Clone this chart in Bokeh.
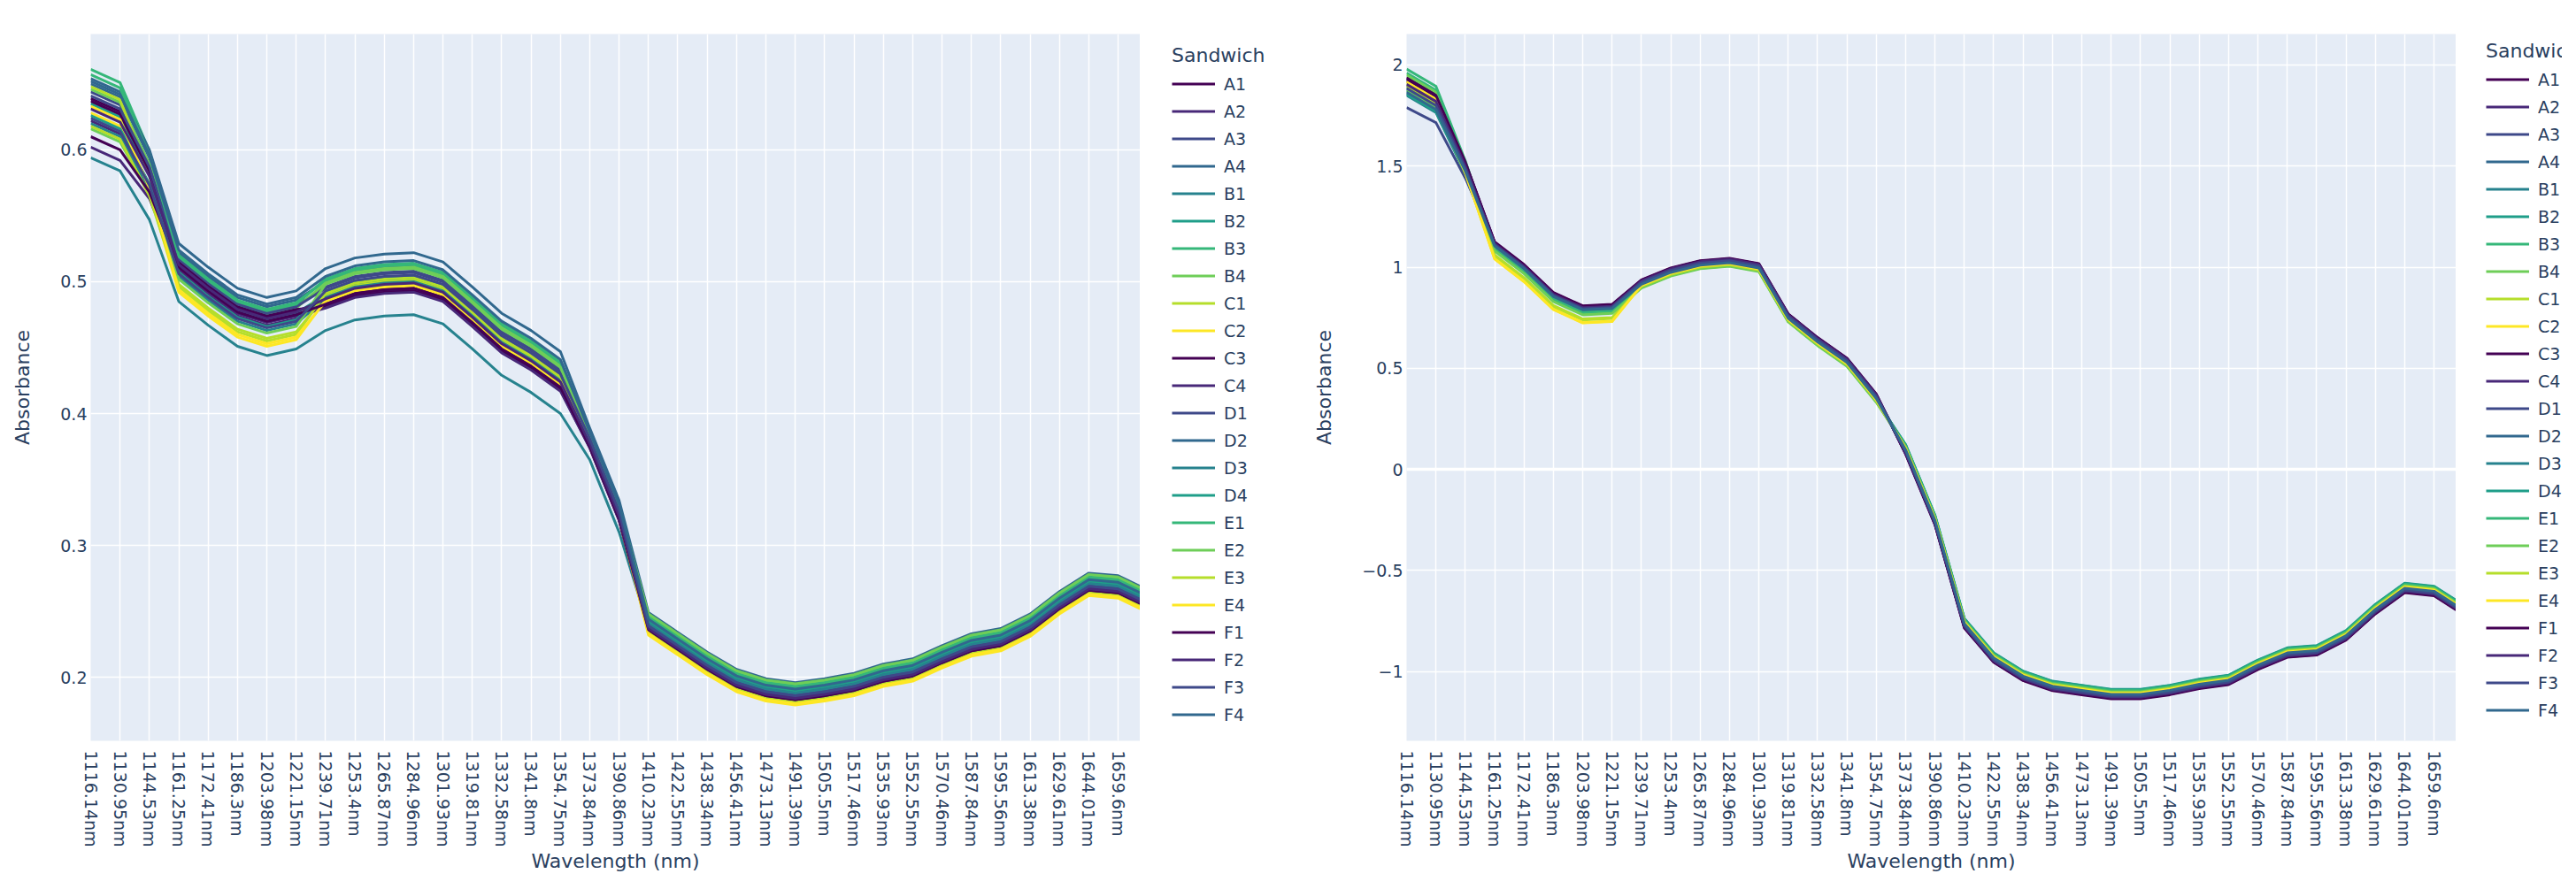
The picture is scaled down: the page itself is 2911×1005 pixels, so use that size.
import math
from bokeh.plotting import figure
from bokeh.models import Range1d, FixedTicker, CustomJSTickFormatter, Legend, LegendItem, Span
from bokeh.layouts import row
from bokeh.embed import file_html
from bokeh.resources import INLINE

# ---------------- data ----------------
wavelength_labels = ["1116.14nm", "1130.95nm", "1144.53nm", "1161.25nm", "1172.41nm", "1186.3nm",
                     "1203.98nm", "1221.15nm", "1239.71nm", "1253.4nm", "1265.87nm", "1284.96nm",
                     "1301.93nm", "1319.81nm", "1332.58nm", "1341.8nm", "1354.75nm", "1373.84nm",
                     "1390.86nm", "1410.23nm", "1422.55nm", "1438.34nm", "1456.41nm", "1473.13nm",
                     "1491.39nm", "1505.5nm", "1517.46nm", "1535.93nm", "1552.55nm", "1570.46nm",
                     "1587.84nm", "1595.56nm", "1613.38nm", "1629.61nm", "1644.01nm", "1659.6nm"]
LABEL_STEP = 4          # one labelled wavelength every 4 categories
last_category = 143     # last (unlabelled) wavelength category at the right edge
sample_pos = [LABEL_STEP * k for k in range(len(wavelength_labels))] + [last_category]

sandwiches = ["A1", "A2", "A3", "A4", "B1", "B2", "B3", "B4", "C1", "C2", "C3", "C4",
              "D1", "D2", "D3", "D4", "E1", "E2", "E3", "E4", "F1", "F2", "F3", "F4"]
viridis10 = ["#440154", "#482878", "#3E4989", "#31688E", "#26828E",
             "#1F9E89", "#35B779", "#6ECE58", "#B5DE2B", "#FDE725"]

# left chart: absorbance
abs_A1 = [0.639, 0.629, 0.585, 0.514, 0.496, 0.480, 0.473, 0.478, 0.484, 0.492, 0.495, 0.496, 0.489, 0.470, 0.450, 0.437, 0.421, 0.376, 0.321,
          0.237, 0.222, 0.207, 0.194, 0.187, 0.184, 0.187, 0.191, 0.198, 0.202, 0.212, 0.221, 0.225, 0.236, 0.253, 0.267, 0.265, 0.257]
abs_A2 = [0.602, 0.592, 0.563, 0.508, 0.490, 0.474, 0.467, 0.472, 0.482, 0.490, 0.493, 0.494, 0.487, 0.468, 0.448, 0.435, 0.419, 0.375, 0.320,
          0.239, 0.224, 0.209, 0.196, 0.189, 0.186, 0.189, 0.193, 0.200, 0.204, 0.214, 0.223, 0.227, 0.238, 0.255, 0.269, 0.267, 0.259]
abs_A3 = [0.644, 0.634, 0.589, 0.518, 0.500, 0.484, 0.477, 0.482, 0.496, 0.504, 0.507, 0.508, 0.501, 0.482, 0.462, 0.449, 0.433, 0.382, 0.327,
          0.242, 0.227, 0.212, 0.199, 0.192, 0.189, 0.192, 0.196, 0.203, 0.207, 0.217, 0.226, 0.230, 0.241, 0.258, 0.272, 0.270, 0.262]
abs_A4 = [0.650, 0.640, 0.594, 0.522, 0.504, 0.488, 0.481, 0.486, 0.500, 0.508, 0.511, 0.512, 0.505, 0.486, 0.466, 0.453, 0.437, 0.384, 0.329,
          0.246, 0.231, 0.216, 0.203, 0.196, 0.193, 0.196, 0.200, 0.207, 0.211, 0.221, 0.230, 0.234, 0.245, 0.262, 0.276, 0.274, 0.266]
abs_B1 = [0.594, 0.584, 0.547, 0.485, 0.467, 0.451, 0.444, 0.449, 0.463, 0.471, 0.474, 0.475, 0.468, 0.449, 0.429, 0.416, 0.400, 0.365, 0.310,
          0.238, 0.223, 0.208, 0.195, 0.188, 0.185, 0.188, 0.192, 0.199, 0.203, 0.213, 0.222, 0.226, 0.237, 0.254, 0.268, 0.266, 0.258]
abs_B2 = [0.635, 0.625, 0.582, 0.512, 0.494, 0.478, 0.471, 0.476, 0.490, 0.498, 0.501, 0.502, 0.495, 0.476, 0.456, 0.443, 0.427, 0.379, 0.324,
          0.243, 0.228, 0.213, 0.200, 0.193, 0.190, 0.193, 0.197, 0.204, 0.208, 0.218, 0.227, 0.231, 0.242, 0.259, 0.273, 0.271, 0.263]
abs_B3 = [0.661, 0.651, 0.599, 0.520, 0.502, 0.486, 0.479, 0.484, 0.501, 0.509, 0.512, 0.513, 0.506, 0.487, 0.467, 0.454, 0.438, 0.385, 0.330,
          0.245, 0.230, 0.215, 0.202, 0.195, 0.192, 0.195, 0.199, 0.206, 0.210, 0.220, 0.229, 0.233, 0.244, 0.261, 0.275, 0.273, 0.265]
abs_B4 = [0.646, 0.636, 0.589, 0.516, 0.498, 0.482, 0.475, 0.480, 0.499, 0.507, 0.510, 0.511, 0.504, 0.485, 0.465, 0.452, 0.436, 0.384, 0.329,
          0.247, 0.232, 0.217, 0.204, 0.197, 0.194, 0.197, 0.201, 0.208, 0.212, 0.222, 0.231, 0.235, 0.246, 0.263, 0.277, 0.275, 0.267]
abs_C1 = [0.648, 0.638, 0.581, 0.498, 0.480, 0.464, 0.457, 0.462, 0.489, 0.497, 0.500, 0.501, 0.494, 0.475, 0.455, 0.442, 0.426, 0.378, 0.323,
          0.236, 0.221, 0.206, 0.193, 0.186, 0.183, 0.186, 0.190, 0.197, 0.201, 0.211, 0.220, 0.224, 0.235, 0.252, 0.266, 0.264, 0.256]
abs_C2 = [0.628, 0.618, 0.568, 0.492, 0.474, 0.458, 0.451, 0.456, 0.486, 0.494, 0.497, 0.498, 0.491, 0.472, 0.452, 0.439, 0.423, 0.377, 0.322,
          0.232, 0.217, 0.202, 0.189, 0.182, 0.179, 0.182, 0.186, 0.193, 0.197, 0.207, 0.216, 0.220, 0.231, 0.248, 0.262, 0.260, 0.252]
abs_C3 = [0.637, 0.627, 0.584, 0.515, 0.497, 0.481, 0.474, 0.479, 0.481, 0.489, 0.492, 0.493, 0.486, 0.467, 0.447, 0.434, 0.418, 0.374, 0.319,
          0.235, 0.220, 0.205, 0.192, 0.185, 0.182, 0.185, 0.189, 0.196, 0.200, 0.210, 0.219, 0.223, 0.234, 0.251, 0.265, 0.263, 0.255]
abs_C4 = [0.622, 0.612, 0.574, 0.510, 0.492, 0.476, 0.469, 0.474, 0.480, 0.488, 0.491, 0.492, 0.485, 0.466, 0.446, 0.433, 0.417, 0.374, 0.319,
          0.238, 0.223, 0.208, 0.195, 0.188, 0.185, 0.188, 0.192, 0.199, 0.203, 0.213, 0.222, 0.226, 0.237, 0.254, 0.268, 0.266, 0.258]
abs_D1 = [0.641, 0.631, 0.587, 0.517, 0.499, 0.483, 0.476, 0.481, 0.495, 0.503, 0.506, 0.507, 0.500, 0.481, 0.461, 0.448, 0.432, 0.382, 0.327,
          0.240, 0.225, 0.210, 0.197, 0.190, 0.187, 0.190, 0.194, 0.201, 0.205, 0.215, 0.224, 0.228, 0.239, 0.256, 0.270, 0.268, 0.260]
abs_D2 = [0.654, 0.644, 0.600, 0.529, 0.511, 0.495, 0.488, 0.493, 0.510, 0.518, 0.521, 0.522, 0.515, 0.496, 0.476, 0.463, 0.447, 0.389, 0.334,
          0.249, 0.234, 0.219, 0.206, 0.199, 0.196, 0.199, 0.203, 0.210, 0.214, 0.224, 0.233, 0.237, 0.248, 0.265, 0.279, 0.277, 0.269]
abs_D3 = [0.620, 0.610, 0.570, 0.504, 0.486, 0.470, 0.463, 0.468, 0.488, 0.496, 0.499, 0.500, 0.493, 0.474, 0.454, 0.441, 0.425, 0.378, 0.323,
          0.241, 0.226, 0.211, 0.198, 0.191, 0.188, 0.191, 0.195, 0.202, 0.206, 0.216, 0.225, 0.229, 0.240, 0.257, 0.271, 0.269, 0.261]
abs_D4 = [0.626, 0.616, 0.574, 0.507, 0.489, 0.473, 0.466, 0.471, 0.492, 0.500, 0.503, 0.504, 0.497, 0.478, 0.458, 0.445, 0.429, 0.380, 0.325,
          0.243, 0.228, 0.213, 0.200, 0.193, 0.190, 0.193, 0.197, 0.204, 0.208, 0.218, 0.227, 0.231, 0.242, 0.259, 0.273, 0.271, 0.263]
abs_E1 = [0.657, 0.647, 0.596, 0.519, 0.501, 0.485, 0.478, 0.483, 0.502, 0.510, 0.513, 0.514, 0.507, 0.488, 0.468, 0.455, 0.439, 0.385, 0.330,
          0.246, 0.231, 0.216, 0.203, 0.196, 0.193, 0.196, 0.200, 0.207, 0.211, 0.221, 0.230, 0.234, 0.245, 0.262, 0.276, 0.274, 0.266]
abs_E2 = [0.616, 0.606, 0.567, 0.502, 0.484, 0.468, 0.461, 0.466, 0.498, 0.506, 0.509, 0.510, 0.503, 0.484, 0.464, 0.451, 0.435, 0.383, 0.328,
          0.248, 0.233, 0.218, 0.205, 0.198, 0.195, 0.198, 0.202, 0.209, 0.213, 0.223, 0.232, 0.236, 0.247, 0.264, 0.278, 0.276, 0.268]
abs_E3 = [0.618, 0.608, 0.565, 0.496, 0.478, 0.462, 0.455, 0.460, 0.491, 0.499, 0.502, 0.503, 0.496, 0.477, 0.457, 0.444, 0.428, 0.379, 0.324,
          0.234, 0.219, 0.204, 0.191, 0.184, 0.181, 0.184, 0.188, 0.195, 0.199, 0.209, 0.218, 0.222, 0.233, 0.250, 0.264, 0.262, 0.254]
abs_E4 = [0.633, 0.623, 0.571, 0.494, 0.476, 0.460, 0.453, 0.458, 0.485, 0.493, 0.496, 0.497, 0.490, 0.471, 0.451, 0.438, 0.422, 0.376, 0.321,
          0.233, 0.218, 0.203, 0.190, 0.183, 0.180, 0.183, 0.187, 0.194, 0.198, 0.208, 0.217, 0.221, 0.232, 0.249, 0.263, 0.261, 0.253]
abs_F1 = [0.610, 0.600, 0.568, 0.511, 0.493, 0.477, 0.470, 0.475, 0.483, 0.491, 0.494, 0.495, 0.488, 0.469, 0.449, 0.436, 0.420, 0.375, 0.320,
          0.236, 0.221, 0.206, 0.193, 0.186, 0.183, 0.186, 0.190, 0.197, 0.201, 0.211, 0.220, 0.224, 0.235, 0.252, 0.266, 0.264, 0.256]
abs_F2 = [0.631, 0.621, 0.580, 0.513, 0.495, 0.479, 0.472, 0.477, 0.487, 0.495, 0.498, 0.499, 0.492, 0.473, 0.453, 0.440, 0.424, 0.377, 0.322,
          0.237, 0.222, 0.207, 0.194, 0.187, 0.184, 0.187, 0.191, 0.198, 0.202, 0.212, 0.221, 0.225, 0.236, 0.253, 0.267, 0.265, 0.257]
abs_F3 = [0.624, 0.614, 0.573, 0.506, 0.488, 0.472, 0.465, 0.470, 0.493, 0.501, 0.504, 0.505, 0.498, 0.479, 0.459, 0.446, 0.430, 0.381, 0.326,
          0.239, 0.224, 0.209, 0.196, 0.189, 0.186, 0.189, 0.193, 0.200, 0.204, 0.214, 0.223, 0.227, 0.238, 0.255, 0.269, 0.267, 0.259]
abs_F4 = [0.652, 0.642, 0.596, 0.524, 0.506, 0.490, 0.483, 0.488, 0.504, 0.512, 0.515, 0.516, 0.509, 0.490, 0.470, 0.457, 0.441, 0.386, 0.331,
          0.244, 0.229, 0.214, 0.201, 0.194, 0.191, 0.194, 0.198, 0.205, 0.209, 0.219, 0.228, 0.232, 0.243, 0.260, 0.274, 0.272, 0.264]

# right chart: normalised absorbance
snv_A1 = [1.940, 1.855, 1.518, 1.115, 1.003, 0.865, 0.799, 0.806, 0.930, 0.989, 1.025, 1.037, 1.011, 0.762, 0.645, 0.543, 0.365,
          0.080, -0.270, -0.780, -0.950, -1.040, -1.090, -1.110, -1.130, -1.130, -1.110, -1.080, -1.060, -0.985, -0.925, -0.914, -0.840, -0.710, -0.605, -0.620, -0.690]
snv_A2 = [1.920, 1.835, 1.509, 1.118, 1.006, 0.868, 0.802, 0.809, 0.933, 0.992, 1.028, 1.040, 1.014, 0.765, 0.648, 0.546, 0.368,
          0.085, -0.265, -0.775, -0.945, -1.035, -1.085, -1.105, -1.125, -1.125, -1.105, -1.075, -1.055, -0.980, -0.920, -0.909, -0.835, -0.705, -0.600, -0.615, -0.685]
snv_A3 = [1.930, 1.845, 1.515, 1.120, 1.008, 0.870, 0.804, 0.811, 0.927, 0.986, 1.022, 1.034, 1.008, 0.759, 0.642, 0.540, 0.362,
          0.092, -0.258, -0.768, -0.938, -1.028, -1.078, -1.098, -1.118, -1.118, -1.098, -1.068, -1.048, -0.973, -0.913, -0.902, -0.828, -0.698, -0.593, -0.608, -0.678]
snv_A4 = [1.880, 1.795, 1.485, 1.110, 0.998, 0.860, 0.794, 0.801, 0.920, 0.979, 1.015, 1.027, 1.001, 0.752, 0.635, 0.533, 0.355,
          0.105, -0.245, -0.755, -0.925, -1.015, -1.065, -1.085, -1.105, -1.105, -1.085, -1.055, -1.035, -0.960, -0.900, -0.889, -0.815, -0.685, -0.580, -0.595, -0.665]
snv_B1 = [1.870, 1.785, 1.477, 1.105, 0.993, 0.855, 0.789, 0.796, 0.910, 0.969, 1.005, 1.017, 0.991, 0.742, 0.625, 0.523, 0.345,
          0.115, -0.235, -0.745, -0.915, -1.005, -1.055, -1.075, -1.095, -1.095, -1.075, -1.045, -1.025, -0.950, -0.890, -0.879, -0.805, -0.675, -0.570, -0.585, -0.655]
snv_B2 = [1.890, 1.805, 1.485, 1.100, 0.988, 0.850, 0.784, 0.791, 0.905, 0.964, 1.000, 1.012, 0.986, 0.737, 0.620, 0.518, 0.340,
          0.120, -0.230, -0.740, -0.910, -1.000, -1.050, -1.070, -1.090, -1.090, -1.070, -1.040, -1.020, -0.945, -0.885, -0.874, -0.800, -0.670, -0.565, -0.580, -0.650]
snv_B3 = [1.960, 1.875, 1.518, 1.095, 0.983, 0.845, 0.779, 0.786, 0.903, 0.962, 0.998, 1.010, 0.984, 0.735, 0.618, 0.516, 0.338,
          0.118, -0.232, -0.742, -0.912, -1.002, -1.052, -1.072, -1.092, -1.092, -1.072, -1.042, -1.022, -0.947, -0.887, -0.876, -0.802, -0.672, -0.567, -0.582, -0.652]
snv_B4 = [1.950, 1.865, 1.508, 1.085, 0.973, 0.835, 0.769, 0.776, 0.900, 0.959, 0.995, 1.007, 0.981, 0.732, 0.615, 0.513, 0.335,
          0.112, -0.238, -0.748, -0.918, -1.008, -1.058, -1.078, -1.098, -1.098, -1.078, -1.048, -1.028, -0.953, -0.893, -0.882, -0.808, -0.678, -0.573, -0.588, -0.658]
snv_C1 = [1.910, 1.825, 1.475, 1.060, 0.948, 0.810, 0.744, 0.751, 0.907, 0.966, 1.002, 1.014, 0.988, 0.739, 0.622, 0.520, 0.342,
          0.108, -0.242, -0.752, -0.922, -1.012, -1.062, -1.082, -1.102, -1.102, -1.082, -1.052, -1.032, -0.957, -0.897, -0.886, -0.812, -0.682, -0.577, -0.592, -0.662]
snv_C2 = [1.920, 1.835, 1.470, 1.040, 0.928, 0.790, 0.724, 0.731, 0.912, 0.971, 1.007, 1.019, 0.993, 0.744, 0.627, 0.525, 0.347,
          0.103, -0.247, -0.757, -0.927, -1.017, -1.067, -1.087, -1.107, -1.107, -1.087, -1.057, -1.037, -0.962, -0.902, -0.891, -0.817, -0.687, -0.582, -0.597, -0.667]
snv_C3 = [1.930, 1.845, 1.516, 1.122, 1.010, 0.872, 0.806, 0.813, 0.935, 0.994, 1.030, 1.042, 1.016, 0.767, 0.650, 0.548, 0.370,
          0.078, -0.272, -0.782, -0.952, -1.042, -1.092, -1.112, -1.132, -1.132, -1.112, -1.082, -1.062, -0.987, -0.927, -0.916, -0.842, -0.712, -0.607, -0.622, -0.692]
snv_C4 = [1.900, 1.815, 1.500, 1.120, 1.008, 0.870, 0.804, 0.811, 0.930, 0.989, 1.025, 1.037, 1.011, 0.762, 0.645, 0.543, 0.365,
          0.083, -0.267, -0.777, -0.947, -1.037, -1.087, -1.107, -1.127, -1.127, -1.107, -1.077, -1.057, -0.982, -0.922, -0.911, -0.837, -0.707, -0.602, -0.617, -0.687]
snv_D1 = [1.790, 1.715, 1.441, 1.112, 1.000, 0.862, 0.796, 0.803, 0.923, 0.982, 1.018, 1.030, 1.004, 0.755, 0.638, 0.536, 0.358,
          0.090, -0.260, -0.770, -0.940, -1.030, -1.080, -1.100, -1.120, -1.120, -1.100, -1.070, -1.050, -0.975, -0.915, -0.904, -0.830, -0.700, -0.595, -0.610, -0.680]
snv_D2 = [1.860, 1.775, 1.474, 1.108, 0.996, 0.858, 0.792, 0.799, 0.917, 0.976, 1.012, 1.024, 0.998, 0.749, 0.632, 0.530, 0.352,
          0.100, -0.250, -0.760, -0.930, -1.020, -1.070, -1.090, -1.110, -1.110, -1.090, -1.060, -1.040, -0.965, -0.905, -0.894, -0.820, -0.690, -0.585, -0.600, -0.670]
snv_D3 = [1.850, 1.765, 1.466, 1.102, 0.990, 0.852, 0.786, 0.793, 0.909, 0.968, 1.004, 1.016, 0.990, 0.741, 0.624, 0.522, 0.344,
          0.112, -0.238, -0.748, -0.918, -1.008, -1.058, -1.078, -1.098, -1.098, -1.078, -1.048, -1.028, -0.953, -0.893, -0.882, -0.808, -0.678, -0.573, -0.588, -0.658]
snv_D4 = [1.855, 1.770, 1.466, 1.098, 0.986, 0.848, 0.782, 0.789, 0.905, 0.964, 1.000, 1.012, 0.986, 0.737, 0.620, 0.518, 0.340,
          0.122, -0.228, -0.738, -0.908, -0.998, -1.048, -1.068, -1.088, -1.088, -1.068, -1.038, -1.018, -0.943, -0.883, -0.872, -0.798, -0.668, -0.563, -0.578, -0.648]
snv_E1 = [1.980, 1.895, 1.526, 1.092, 0.980, 0.842, 0.776, 0.783, 0.901, 0.960, 0.996, 1.008, 0.982, 0.733, 0.616, 0.514, 0.336,
          0.116, -0.234, -0.744, -0.914, -1.004, -1.054, -1.074, -1.094, -1.094, -1.074, -1.044, -1.024, -0.949, -0.889, -0.878, -0.804, -0.674, -0.569, -0.584, -0.654]
snv_E2 = [1.875, 1.790, 1.467, 1.080, 0.968, 0.830, 0.764, 0.771, 0.897, 0.956, 0.992, 1.004, 0.978, 0.729, 0.612, 0.510, 0.332,
          0.110, -0.240, -0.750, -0.920, -1.010, -1.060, -1.080, -1.100, -1.100, -1.080, -1.050, -1.030, -0.955, -0.895, -0.884, -0.810, -0.680, -0.575, -0.590, -0.660]
snv_E3 = [1.895, 1.810, 1.465, 1.055, 0.943, 0.805, 0.739, 0.746, 0.905, 0.964, 1.000, 1.012, 0.986, 0.737, 0.620, 0.518, 0.340,
          0.106, -0.244, -0.754, -0.924, -1.014, -1.064, -1.084, -1.104, -1.104, -1.084, -1.054, -1.034, -0.959, -0.899, -0.888, -0.814, -0.684, -0.579, -0.594, -0.664]
snv_E4 = [1.915, 1.830, 1.468, 1.042, 0.930, 0.792, 0.726, 0.733, 0.910, 0.969, 1.005, 1.017, 0.991, 0.742, 0.625, 0.523, 0.345,
          0.102, -0.248, -0.758, -0.928, -1.018, -1.068, -1.088, -1.108, -1.108, -1.088, -1.058, -1.038, -0.963, -0.903, -0.892, -0.818, -0.688, -0.583, -0.598, -0.668]
snv_F1 = [1.935, 1.850, 1.520, 1.125, 1.013, 0.875, 0.809, 0.816, 0.937, 0.996, 1.032, 1.044, 1.018, 0.769, 0.652, 0.550, 0.372,
          0.075, -0.275, -0.785, -0.955, -1.045, -1.095, -1.115, -1.135, -1.135, -1.115, -1.085, -1.065, -0.990, -0.930, -0.919, -0.845, -0.715, -0.610, -0.625, -0.695]
snv_F2 = [1.905, 1.820, 1.501, 1.116, 1.004, 0.866, 0.800, 0.807, 0.932, 0.991, 1.027, 1.039, 1.013, 0.764, 0.647, 0.545, 0.367,
          0.082, -0.268, -0.778, -0.948, -1.038, -1.088, -1.108, -1.128, -1.128, -1.108, -1.078, -1.058, -0.983, -0.923, -0.912, -0.838, -0.708, -0.603, -0.618, -0.688]
snv_F3 = [1.885, 1.800, 1.487, 1.110, 0.998, 0.860, 0.794, 0.801, 0.925, 0.984, 1.020, 1.032, 1.006, 0.757, 0.640, 0.538, 0.360,
          0.088, -0.262, -0.772, -0.942, -1.032, -1.082, -1.102, -1.122, -1.122, -1.102, -1.072, -1.052, -0.977, -0.917, -0.906, -0.832, -0.702, -0.597, -0.612, -0.682]
snv_F4 = [1.865, 1.780, 1.475, 1.105, 0.993, 0.855, 0.789, 0.796, 0.915, 0.974, 1.010, 1.022, 0.996, 0.747, 0.630, 0.528, 0.350,
          0.097, -0.253, -0.763, -0.933, -1.023, -1.073, -1.093, -1.113, -1.113, -1.093, -1.063, -1.043, -0.968, -0.908, -0.897, -0.823, -0.693, -0.588, -0.603, -0.673]

left_ticks = [0.2, 0.3, 0.4, 0.5, 0.6]
right_ticks = [-1, -0.5, 0, 0.5, 1, 1.5, 2]

abs_series = [abs_A1, abs_A2, abs_A3, abs_A4, abs_B1, abs_B2, abs_B3, abs_B4, abs_C1, abs_C2, abs_C3, abs_C4,
              abs_D1, abs_D2, abs_D3, abs_D4, abs_E1, abs_E2, abs_E3, abs_E4, abs_F1, abs_F2, abs_F3, abs_F4]
snv_series = [snv_A1, snv_A2, snv_A3, snv_A4, snv_B1, snv_B2, snv_B3, snv_B4, snv_C1, snv_C2, snv_C3, snv_C4,
              snv_D1, snv_D2, snv_D3, snv_D4, snv_E1, snv_E2, snv_E3, snv_E4, snv_F1, snv_F2, snv_F3, snv_F4]

# ---------------- styling ----------------
FONT = "DejaVu Sans"
TXT = "#2a3f5f"
FRAME_W = 1186
PAGE_H = 996
B_TOP = 38        # shared by every panel of the row (the row aligns them anyway)
B_BOTTOM = 159


def make_fig(series, y_lo, y_hi, yticks, b_left, zero_line):
    p = figure(width=b_left + FRAME_W, height=PAGE_H,
               x_range=Range1d(0, last_category), y_range=Range1d(y_lo, y_hi),
               output_backend="svg", toolbar_location=None,
               min_border_left=b_left, min_border_right=0,
               min_border_top=B_TOP, min_border_bottom=B_BOTTOM,
               background_fill_color="#E5ECF6", border_fill_color="white",
               outline_line_color=None)
    p.xgrid.grid_line_color = "white"
    p.ygrid.grid_line_color = "white"
    p.xgrid.grid_line_width = 1.5
    p.ygrid.grid_line_width = 1.5

    if zero_line:
        p.add_layout(Span(location=0, dimension="width", line_color="white",
                          line_width=3.5, level="underlay"))

    xa = p.xaxis[0]
    xa.ticker = FixedTicker(ticks=[LABEL_STEP * k for k in range(len(wavelength_labels))])
    xa.formatter = CustomJSTickFormatter(args=dict(labels=wavelength_labels, step=LABEL_STEP),
                                         code="return labels[Math.round(tick / step)];")
    xa.major_label_orientation = -math.pi / 2
    xa.axis_label = "Wavelength (nm)"
    xa.major_label_standoff = 11
    xa.axis_label_standoff = 0

    ya = p.yaxis[0]
    ya.ticker = FixedTicker(ticks=yticks)
    ya.formatter = CustomJSTickFormatter(code="return (tick < 0 ? '\\u2212' : '') + Math.abs(tick).toString();")
    ya.axis_label = "Absorbance"
    ya.major_label_standoff = 4
    ya.axis_label_standoff = 27

    for ax in (xa, ya):
        ax.axis_line_color = None
        ax.major_tick_line_color = None
        ax.minor_tick_line_color = None
        ax.major_tick_out = 0
        ax.major_tick_in = 0
        ax.major_label_text_font = FONT
        ax.major_label_text_font_size = "19px"
        ax.major_label_text_color = TXT
        ax.axis_label_text_font = FONT
        ax.axis_label_text_font_size = "22px"
        ax.axis_label_text_font_style = "normal"
        ax.axis_label_text_color = TXT

    for k, vals in enumerate(series):
        p.line(sample_pos, vals, line_color=viridis10[k % 10], line_width=3, line_join="round")
    return p


def make_legend_panel(width, pad_left, offset):
    # a bare panel that only carries the "Sandwich" legend next to a chart;
    # its proxy lines lie outside the panel's visible range and only feed the legend swatches
    q = figure(width=width, height=PAGE_H, x_range=Range1d(0, 1), y_range=Range1d(0, 1),
               output_backend="svg", toolbar_location=None,
               min_border_left=pad_left, min_border_top=B_TOP, min_border_right=0,
               min_border_bottom=B_BOTTOM,
               background_fill_color="white", border_fill_color="white", outline_line_color=None)
    q.axis.visible = False
    q.grid.visible = False
    items = []
    for k, name in enumerate(sandwiches):
        r = q.line([2, 3], [2, 3], line_color=viridis10[k % 10], line_width=3)
        items.append(LegendItem(label=name, renderers=[r]))
    legend = Legend(items=items, location="top_left", title="Sandwich",
                    title_text_font=FONT, title_text_font_size="22px", title_text_color=TXT,
                    title_text_font_style="normal", title_standoff=4,
                    label_text_font=FONT, label_text_font_size="19px", label_text_color=TXT,
                    glyph_width=49, glyph_height=31, label_height=31, label_standoff=10,
                    spacing=0, padding=0, margin=offset,
                    border_line_color=None, background_fill_alpha=0)
    q.add_layout(legend)
    return q


left = make_fig(abs_series, 0.1518, 0.6878, left_ticks, b_left=102, zero_line=False)
left_leg = make_legend_panel(184, 24, 12)
right = make_fig(snv_series, -1.343, 2.153, right_ticks, b_left=117, zero_line=True)
right_leg = make_legend_panel(120, 27, 7)

layout = row(left, left_leg, right, right_leg)
open("out.html", "w").write(file_html(layout, INLINE))
